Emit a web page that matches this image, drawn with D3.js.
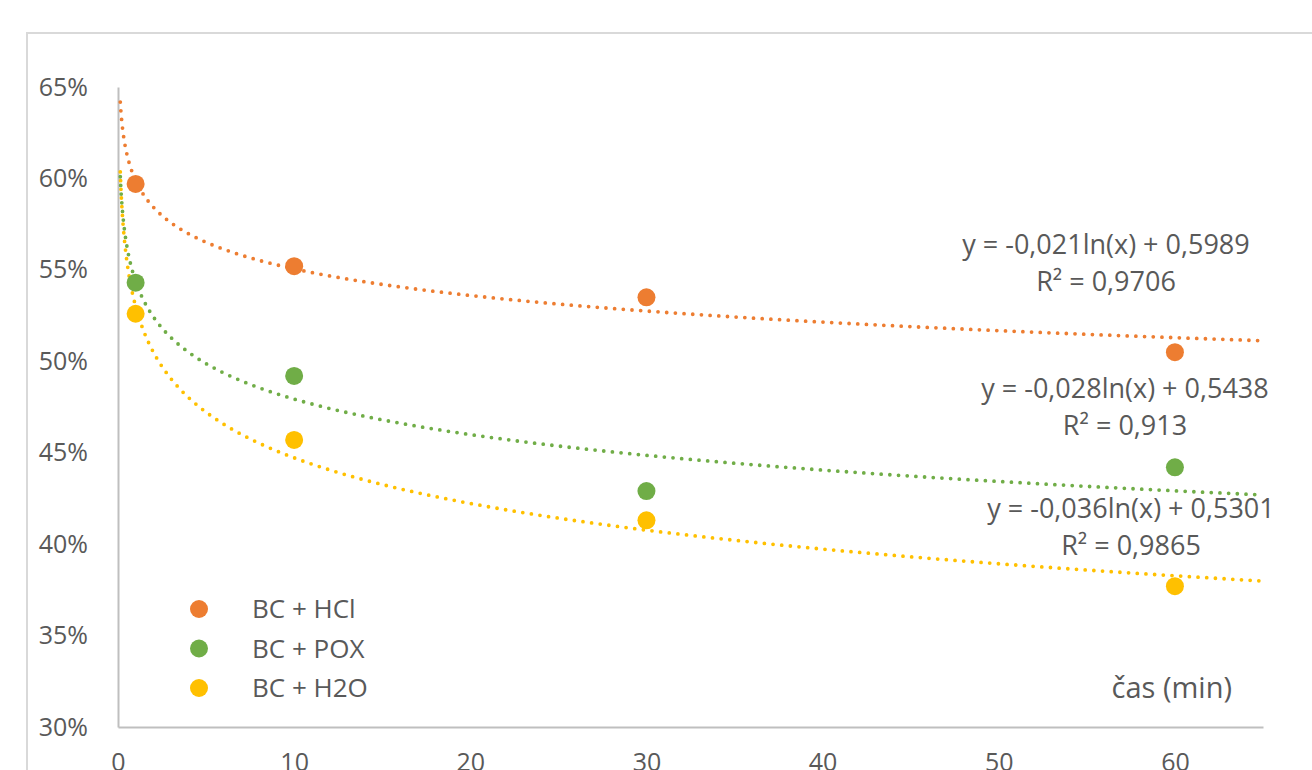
<!DOCTYPE html>
<html lang="sk">
<head>
<meta charset="utf-8">
<title>BC trendlines</title>
<style>
  body { margin: 0; background: #fff; }
  text { font-family: "Open Sans", sans-serif; fill: #595959; }
</style>
</head>
<body>
<script src="https://d3js.org/d3.v7.min.js"></script>
<script>
var w = 1312, h = 770;

// data
var times = [1, 10, 30, 60];
var seriesNames = ["BC + HCl", "BC + POX", "BC + H2O"];
var seriesColors = ["#ED7D31", "#70AD47", "#FFC000"];
var valsHCl = [0.597, 0.552, 0.535, 0.505];
var valsPOX = [0.543, 0.492, 0.429, 0.442];
var valsH2O = [0.526, 0.457, 0.413, 0.377];
var slopes = [-0.021, -0.028, -0.036];
var intercepts = [0.5989, 0.5438, 0.5301];
var eqLabels = ["y = -0,021ln(x) + 0,5989", "y = -0,028ln(x) + 0,5438", "y = -0,036ln(x) + 0,5301"];
var r2Labels = ["R² = 0,9706", "R² = 0,913", "R² = 0,9865"];
var xTicks = [0, 10, 20, 30, 40, 50, 60];
var yTicks = [0.30, 0.35, 0.40, 0.45, 0.50, 0.55, 0.60, 0.65];

var values = [valsHCl, valsPOX, valsH2O];

var svg = d3.select("body").append("svg")
    .attr("width", w)
    .attr("height", h);

// chart frame
svg.append("rect")
    .attr("x", 27).attr("y", 33)
    .attr("width", 1320).attr("height", 800)
    .attr("fill", "none")
    .attr("stroke", "#d9d9d9")
    .attr("stroke-width", 2);

var x = d3.scaleLinear().domain([0, 65]).range([118, 1263]);
var y = d3.scaleLinear().domain([0.30, 0.65]).range([727, 87]);

// axes
svg.append("g")
    .attr("transform", "translate(118,0)")
    .call(d3.axisLeft(y).tickValues(yTicks).tickSize(0).tickPadding(30)
        .tickFormat(d3.format(".0%")));
svg.append("g")
    .attr("transform", "translate(0,727)")
    .call(d3.axisBottom(x).tickValues(xTicks).tickSize(0).tickPadding(26));
svg.selectAll(".domain").attr("stroke", "#bfbfbf").attr("stroke-width", 2);
svg.selectAll(".tick text").style("font-size", "25px")
    .style("font-family", "'Open Sans', sans-serif").attr("fill", "#595959");

// trendlines
var xs = d3.range(0, 201).map(function(i) {
    return Math.exp(Math.log(0.13) + (Math.log(65) - Math.log(0.13)) * i / 200);
});
var line = d3.line()
    .x(function(d) { return x(d[0]); })
    .y(function(d) { return y(d[1]); });

for (var s = 0; s < 3; s++) {
    var pts = xs.map(function(t) { return [t, slopes[s] * Math.log(t) + intercepts[s]]; });
    svg.append("path")
        .attr("d", line(pts))
        .attr("fill", "none")
        .attr("stroke", seriesColors[s])
        .attr("stroke-width", 3.8)
        .attr("stroke-linecap", "round")
        .attr("stroke-dasharray", "0 8.7");
}

// points
for (var s = 0; s < 3; s++) {
    svg.append("g").selectAll("circle")
        .data(values[s])
        .enter()
        .append("circle")
        .attr("cx", function(d, i) { return x(times[i]); })
        .attr("cy", function(d) { return y(d); })
        .attr("r", 9)
        .attr("fill", seriesColors[s]);
}

// equation labels
var eqPos = [[1106, 254], [1125, 398], [1131, 518]];
for (var s = 0; s < 3; s++) {
    svg.append("text")
        .attr("x", eqPos[s][0]).attr("y", eqPos[s][1])
        .attr("text-anchor", "middle")
        .style("font-size", "27px")
        .text(eqLabels[s]);
    svg.append("text")
        .attr("x", eqPos[s][0]).attr("y", eqPos[s][1] + 37)
        .attr("text-anchor", "middle")
        .style("font-size", "27px")
        .text(r2Labels[s]);
}

// axis title
svg.append("text")
    .attr("x", 1232).attr("y", 698)
    .attr("text-anchor", "end")
    .style("font-size", "29px")
    .text("čas (min)");

// legend
var legend = svg.append("g");
seriesNames.forEach(function(n, i) {
    legend.append("circle")
        .attr("cx", 199).attr("cy", 609 + i * 39.5)
        .attr("r", 9)
        .attr("fill", seriesColors[i]);
    legend.append("text")
        .attr("x", 252).attr("y", 609 + i * 39.5 + 9)
        .style("font-size", "26px")
        .text(n);
});
</script>
</body>
</html>
